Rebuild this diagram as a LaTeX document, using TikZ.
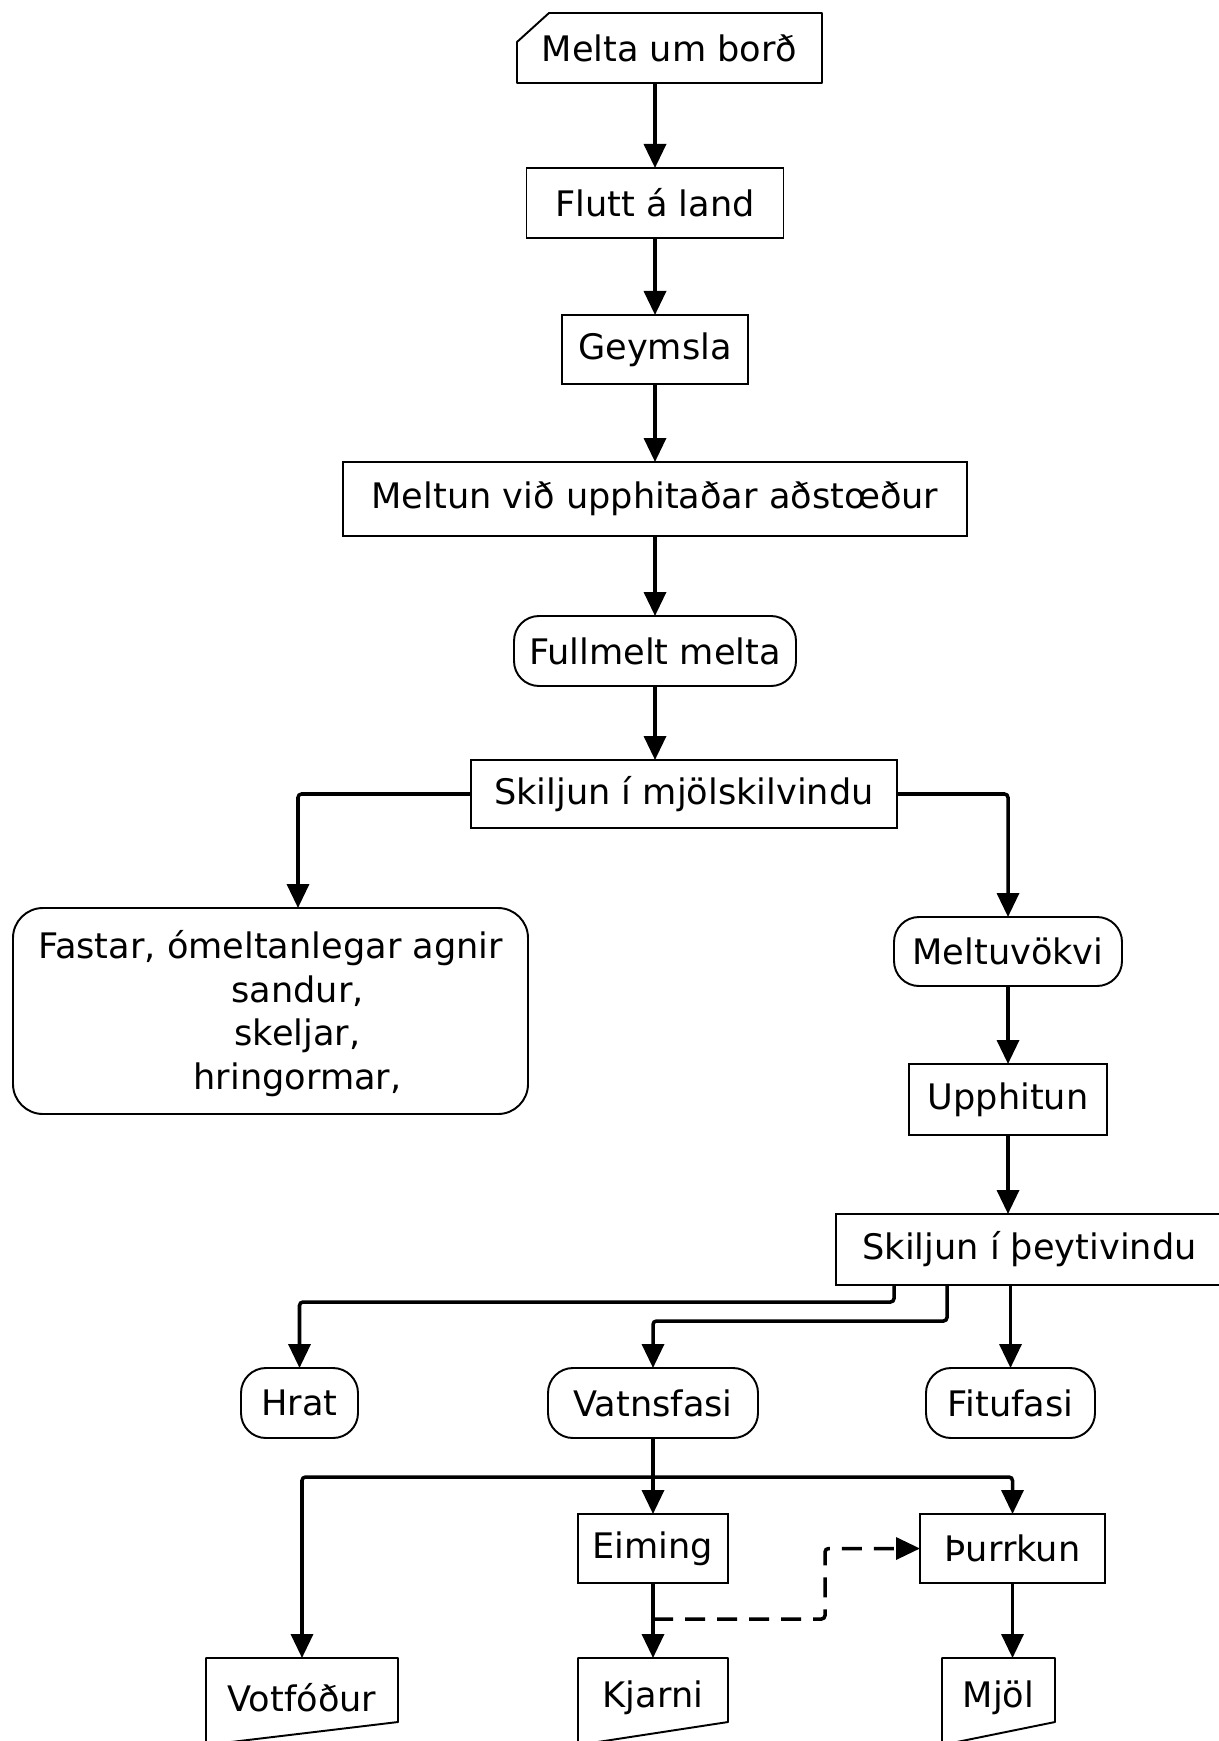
\documentclass[tikz,border=0pt]{standalone}
\usepackage{fontspec}
\setmainfont{DejaVu Sans}
\usetikzlibrary{positioning,arrows.meta}

\begin{document}
\begin{tikzpicture}[
  font=\fontsize{20}{24.7}\selectfont,
  box/.style={draw,line width=1.1pt,minimum height=1.4cm,inner sep=2pt,outer sep=0pt},
  pill/.style={box,rounded corners=0.5cm},
  shell/.style={minimum height=1.4cm,inner sep=2pt,outer sep=0pt},
  outline/.style={line width=1.1pt,line join=round},
  arr/.style={-{Triangle[length=4.8mm,width=4.4mm]},line width=2pt,rounded corners=2pt},
  dasharr/.style={arr,dash pattern=on 4mm off 2.4mm}]
  \useasboundingbox (0,0) rectangle (24.36,-34.82);
  % main column
  \node[shell,minimum width=6.1cm] (melta) at (13.39,-0.96) {Melta um borð};
  \node[box,minimum width=5.14cm,below=1.7cm of melta,xshift=-0.29cm] (flutt) {Flutt á land};
  \node[box,minimum width=3.72cm,minimum height=1.38cm,below=1.54cm of flutt] (geymsla) {Geymsla};
  \node[box,minimum width=12.48cm,minimum height=1.48cm,below=1.56cm of geymsla] (meltun) {Meltun við upphitaðar aðstœður};
  \node[pill,minimum width=5.64cm,below=1.6cm of meltun] (fullmelt) {Fullmelt melta};
  \node[box,minimum width=8.52cm,minimum height=1.36cm,below=1.48cm of fullmelt,xshift=0.58cm] (skil1) {Skiljun í mjölskilvindu};
  % first split
  \node[box,rounded corners=0.6cm,minimum width=10.3cm,minimum height=4.12cm,align=center,below=1.6cm of skil1,xshift=-8.27cm] (fastar)
    {\\[-0.2cm]Fastar, ómeltanlegar agnir\\\hspace*{1.08cm}sandur,\\\hspace*{1.08cm}skeljar,\\\hspace*{1.08cm}hringormar,};
  \node[pill,minimum width=4.56cm,minimum height=1.38cm,below=1.78cm of skil1,xshift=6.48cm] (meltuv) {Meltuvökvi};
  \node[box,minimum width=3.96cm,minimum height=1.42cm,below=1.56cm of meltuv] (upphitun) {Upphitun};
  \node[box,minimum width=7.74cm,minimum height=1.42cm,below=1.58cm of upphitun,xshift=0.43cm] (skil2) {Skiljun í þeytivindu};
  % phases
  \node[pill,minimum width=4.2cm,below=1.66cm of skil2,xshift=-7.53cm] (vatns) {Vatnsfasi};
  \node[pill,minimum width=2.34cm,left=3.8cm of vatns] (hrat) {Hrat};
  \node[pill,minimum width=3.38cm,right=3.36cm of vatns] (fitu) {Fitufasi};
  \node[box,minimum width=3cm,minimum height=1.38cm,below=1.52cm of vatns] (eiming) {Eiming};
  \node[box,minimum width=3.7cm,minimum height=1.38cm,right=3.84cm of eiming] (thurrk) {Þurrkun};
  % products
  \node[shell,minimum width=3cm,minimum height=1.6cm,below=1.5cm of eiming] (kjarni) {Kjarni};
  \node[shell,minimum width=3.84cm,minimum height=1.6cm,left=3.6cm of kjarni] (votf) {Votfóður};
  \node[shell,minimum width=2.26cm,minimum height=1.6cm,below=1.5cm of thurrk,xshift=-0.28cm] (mjol) {Mjöl};

  \draw[outline] ([yshift=-0.58cm]melta.north west) -- ([xshift=0.64cm]melta.north west)
    -- (melta.north east) -- (melta.south east) -- (melta.south west) -- cycle;
  \foreach \n in {votf,kjarni,mjol}
    \draw[outline] ([yshift=-0.14cm]\n.south west) -- (\n.north west) -- (\n.north east)
      -- ([yshift=0.32cm]\n.south east) -- cycle;

  \draw[arr] (melta.south -| flutt.north) -- (flutt.north);
  \draw[arr] (flutt) -- (geymsla);
  \draw[arr] (geymsla) -- (meltun);
  \draw[arr] (meltun) -- (fullmelt);
  \draw[arr] (fullmelt.south) -- (fullmelt.south |- skil1.north);
  \draw[arr] (skil1.west) -| ([xshift=0.55cm]fastar.north);
  \draw[arr] (skil1.east) -| (meltuv.north);
  \draw[arr] (meltuv) -- (upphitun);
  \draw[arr] (upphitun.south) -- (upphitun.south |- skil2.north);
  \draw[arr] ([xshift=-2.71cm]skil2.south) -- ++(0,-0.34) -| (hrat.north);
  \draw[arr] ([xshift=-1.65cm]skil2.south) -- ++(0,-0.72) -| (vatns.north);
  \draw[arr] (skil2.south -| fitu.north) -- (fitu.north);
  \draw[arr] (vatns) -- (eiming);
  \coordinate (split) at ([yshift=-0.78cm]vatns.south);
  \draw[arr] (split) -| (votf.north);
  \draw[arr] (split) -| (thurrk.north);
  \draw[arr] (eiming) -- (kjarni);
  \draw[dasharr] ([yshift=-0.72cm]eiming.south) -- ++(3.44,0) |- (thurrk.west);
  \draw[arr] (thurrk.south) -- (thurrk.south |- mjol.north);
\end{tikzpicture}
\end{document}
